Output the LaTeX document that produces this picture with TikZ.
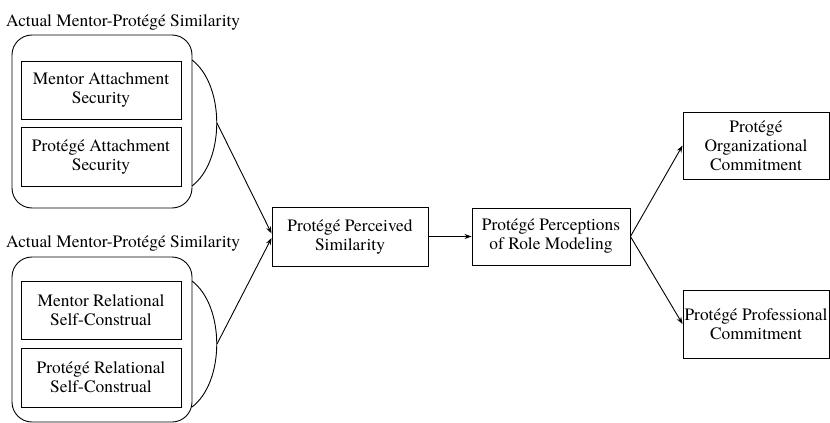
\documentclass[tikz,border=0pt]{standalone}
\usepackage{fontspec}
\setmainfont{TeX Gyre Termes}
\usetikzlibrary{arrows.meta}
\begin{document}
\begin{tikzpicture}[x=1pt,y=-1pt,
  txt/.style={font=\fontsize{17.4}{19}\selectfont},
  box/.style={txt, draw, line width=0.9pt, align=center, inner sep=0pt},
  grp/.style={draw, line width=0.9pt, rounded corners=20pt, inner sep=0pt},
  lbl/.style={txt, inner sep=0pt, anchor=west},
  arr/.style={line width=0.9pt, -{Stealth[length=7pt,width=5pt]}},
  bulge/.style={line width=0.9pt}]
\useasboundingbox (0,0) rectangle (830,423);
% top group
\node[lbl] (t1) at (6,22) {Actual Mentor-Protégé Similarity};
\node[grp, minimum width=180pt, minimum height=173pt] (g1) at (102,121.5) {};
\node[box, minimum width=160pt, minimum height=58pt] (ma) at (101,90) {Mentor Attachment\\Security};
\node[box, minimum width=160pt, minimum height=59pt] (pa) at (101,156.5) {Protégé Attachment\\Security};
\draw[bulge] (192,60) .. controls (225,85) and (225,161) .. (192,186);
\coordinate (a1) at (217,123);
% bottom group
\node[lbl] (t2) at (6,243) {Actual Mentor-Protégé Similarity};
\node[grp, minimum width=180pt, minimum height=165pt] (g2) at (102,339.5) {};
\node[box, minimum width=160pt, minimum height=58pt] (mr) at (101,310) {Mentor Relational\\Self-Construal};
\node[box, minimum width=160pt, minimum height=59pt] (pr) at (101,377.5) {Protégé Relational\\Self-Construal};
\draw[bulge] (192,281) .. controls (225,306) and (225,382) .. (192,407);
\coordinate (a2) at (217,344);
% main chain
\node[box, minimum width=156pt, minimum height=59pt] (ps) at (350,236.5) {Protégé Perceived\\Similarity};
\node[box, minimum width=158pt, minimum height=57pt] (rm) at (551,236.5) {Protégé Perceptions\\of Role Modeling};
\node[box, minimum width=146pt, minimum height=67pt] (oc) at (756,145.5) {Protégé\\Organizational\\Commitment};
\node[box, minimum width=146pt, minimum height=68pt] (pc) at (756,324) {Protégé Professional\\Commitment};
% connectors
\draw[arr] (a1) -- ([yshift=3pt]ps.west);
\draw[arr] (a2) -- ([yshift=-1.5pt]ps.west);
\draw[arr] (ps) -- (rm);
\draw[arr] (rm.east) -- (oc.west);
\draw[arr] (rm.east) -- (pc.west);
\end{tikzpicture}
\end{document}
